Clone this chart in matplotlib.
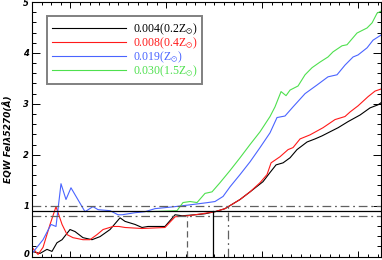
import matplotlib
matplotlib.use("Agg")
import matplotlib.pyplot as plt
import matplotlib.transforms as mtransforms
from matplotlib.ticker import MultipleLocator, NullFormatter

# log(age) on x (unlabelled in the original), EQW on y
black_x = [6.600, 6.683, 6.756, 6.808, 6.860, 6.913, 6.996, 7.048, 7.131, 7.225,
           7.308, 7.413, 7.517, 7.569, 7.673, 7.746, 7.808, 7.985, 8.090, 8.163,
           8.298, 8.402, 8.506, 8.610, 8.767, 8.871, 9.006, 9.079, 9.142, 9.215,
           9.288, 9.360, 9.465, 9.548, 9.621, 9.704, 9.788, 9.892, 10.017, 10.121,
           10.204, 10.235]
black_y = [0.10, 0.06, 0.14, 0.10, 0.27, 0.33, 0.53, 0.49, 0.37, 0.33,
           0.39, 0.53, 0.76, 0.69, 0.63, 0.57, 0.59, 0.59, 0.82, 0.80,
           0.82, 0.84, 0.88, 0.94, 1.12, 1.27, 1.47, 1.65, 1.80, 1.84,
           1.94, 2.10, 2.25, 2.31, 2.37, 2.45, 2.53, 2.65, 2.78, 2.92,
           2.98, 3.02]

red_x = [6.600, 6.663, 6.715, 6.788, 6.850, 6.913, 6.965, 7.027, 7.131, 7.204,
         7.277, 7.340, 7.444, 7.506, 7.569, 7.746, 7.985, 8.090, 8.225, 8.371,
         8.506, 8.610, 8.767, 8.871, 8.975, 9.048, 9.090, 9.183, 9.267, 9.319,
         9.392, 9.496, 9.631, 9.756, 9.860, 9.913, 9.996, 10.100, 10.173, 10.235]
red_y = [0.18, 0.04, 0.18, 0.63, 0.98, 0.63, 0.43, 0.37, 0.33, 0.33,
         0.43, 0.53, 0.59, 0.59, 0.57, 0.55, 0.57, 0.78, 0.80, 0.84,
         0.88, 0.94, 1.12, 1.27, 1.45, 1.61, 1.84, 1.96, 2.10, 2.14,
         2.31, 2.39, 2.53, 2.69, 2.75, 2.84, 2.96, 3.14, 3.25, 3.29]

blue_x = [6.600, 6.715, 6.798, 6.850, 6.902, 6.954, 7.006, 7.152, 7.235, 7.288,
          7.413, 7.496, 7.538, 7.673, 7.777, 7.881, 8.090, 8.267, 8.433, 8.506,
          8.590, 8.663, 8.767, 8.871, 8.975, 9.079, 9.152, 9.235, 9.319, 9.444,
          9.569, 9.683, 9.777, 9.860, 9.944, 9.996, 10.090, 10.152, 10.235]
blue_y = [0.06, 0.33, 0.63, 0.59, 1.43, 1.12, 1.35, 0.88, 0.98, 0.92,
          0.90, 0.82, 0.82, 0.86, 0.88, 0.94, 0.98, 1.02, 1.06, 1.08,
          1.18, 1.37, 1.61, 1.86, 2.14, 2.43, 2.73, 2.76, 2.94, 3.20,
          3.37, 3.53, 3.57, 3.76, 3.92, 3.96, 4.10, 4.25, 4.35]

green_x = [7.808, 8.110, 8.173, 8.246, 8.319, 8.402, 8.475, 8.558, 8.663, 8.767,
           8.871, 8.975, 9.079, 9.131, 9.194, 9.246, 9.288, 9.371, 9.444, 9.517,
           9.600, 9.683, 9.735, 9.829, 9.881, 9.985, 10.090, 10.142, 10.194, 10.235]
green_y = [0.88, 0.90, 1.06, 1.08, 1.06, 1.24, 1.27, 1.45, 1.69, 1.94,
           2.20, 2.45, 2.75, 2.94, 3.24, 3.16, 3.27, 3.35, 3.57, 3.71,
           3.82, 3.92, 4.02, 4.14, 4.16, 4.39, 4.49, 4.59, 4.78, 4.82]

labels = [r"0.004(0.2Z$_{\odot}$)", r"0.008(0.4Z$_{\odot}$)",
          r"0.019(Z$_{\odot}$)", r"0.030(1.5Z$_{\odot}$)"]
colors = ["black", "#ff1a1a", "#4a64ff", "#4ee04e"]
yticks = [0, 1, 2, 3, 4, 5]

# reference levels and where the black track crosses them
levels = [0.8, 0.9, 1.0]
cross_x = [8.215, 8.485, 8.642]

plt.rcParams["mathtext.fontset"] = "stix"

fig = plt.figure(figsize=(3.82, 2.60), dpi=100)
ax = fig.add_axes([32 / 382, 3.5 / 260, 349 / 382, 254.5 / 260])

for xs, ys, c, lab in zip([black_x, red_x, blue_x, green_x],
                          [black_y, red_y, blue_y, green_y], colors, labels):
    ax.plot(xs, ys, color=c, lw=0.8, label=lab)

gray = "#606060"
dashdot = (0, (7, 3, 1.5, 3))
ax.axhline(levels[0], color=gray, lw=0.9, ls=dashdot)
ax.axhline(levels[1], color="black", lw=0.9)
ax.axhline(levels[2], color=gray, lw=0.9, ls=dashdot)
ax.plot([cross_x[0], cross_x[0]], [0, levels[0]], color=gray, lw=0.9, ls=(0, (5, 3)))
ax.plot([cross_x[1], cross_x[1]], [0, levels[1]], color="black", lw=0.9)
ax.plot([cross_x[2], cross_x[2]], [0, levels[2]], color=gray, lw=0.9, ls=dashdot)

ax.set_xlim(6.6, 10.235)
ax.set_ylim(0, 5)
ax.xaxis.set_major_locator(MultipleLocator(1))
ax.xaxis.set_minor_locator(MultipleLocator(0.1))
ax.xaxis.set_major_formatter(NullFormatter())
ax.set_yticks(yticks)
ax.set_yticklabels([str(v) for v in yticks], fontsize=6, fontweight="bold",
                   fontstyle="italic")
ax.yaxis.set_minor_locator(MultipleLocator(0.2))
ax.tick_params(axis="both", which="both", direction="in", top=True, right=True,
               width=0.7, pad=2)
ax.tick_params(axis="x", which="major", length=4)
ax.tick_params(axis="x", which="minor", length=2)
ax.tick_params(axis="y", which="major", length=6)
ax.tick_params(axis="y", which="minor", length=3)
for s in ax.spines.values():
    s.set_linewidth(0.8)

ax.set_ylabel("EQW FeI\u03bb5270(\u00c5)", fontsize=6.5, fontweight="bold",
              fontstyle="italic")
ax.yaxis.set_label_coords(-0.055, 0.46)

leg = ax.legend(loc="upper left", bbox_to_anchor=(47 / 382, 1 - 16 / 260),
                bbox_transform=fig.transFigure, borderaxespad=0,
                prop={"family": "Liberation Serif", "size": 8.5},
                handlelength=6.2, handletextpad=0.6, labelspacing=-0.12,
                borderpad=0.45, fancybox=False, framealpha=1)
leg.get_frame().set_edgecolor("#808080")
leg.get_frame().set_linewidth(1.4)
for t, c in zip(leg.get_texts(), colors):
    t.set_color(c)

# nudge the "0" up a little so it stays inside the picture
fig.canvas.draw()
zero = ax.yaxis.get_major_ticks()[0].label1
zero.set_transform(zero.get_transform() +
                   mtransforms.ScaledTranslation(0, 2.5 / 72, fig.dpi_scale_trans))

fig.savefig("out.png", dpi=100)
